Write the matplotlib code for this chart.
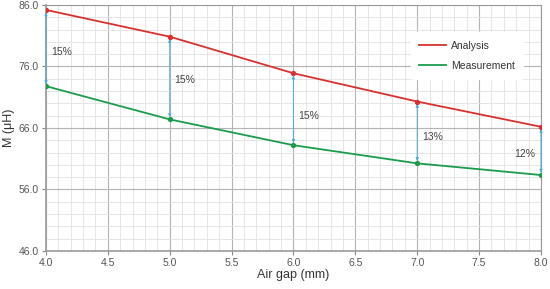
import numpy as np
import matplotlib.pyplot as plt
from matplotlib.ticker import MultipleLocator
from matplotlib.lines import Line2D

plt.rcParams['font.family'] = ['Liberation Sans', 'DejaVu Sans']

air_gap = [4.0, 5.0, 6.0, 7.0, 8.0]
analysis = [85.2, 80.85, 74.9, 70.3, 66.2]
measurement = [72.8, 67.4, 63.2, 60.25, 58.35]
diff_labels = ['15%', '15%', '15%', '13%', '12%']
label_y = [78.4, 73.8, 68.0, 64.5, 61.8]

fig = plt.figure(figsize=(5.5, 2.89), dpi=100)
ax = fig.add_axes([0.0836, 0.1315, 0.9, 0.8512])

red = '#d8312e'
green = '#1b9c4c'
blue = '#4aaee0'

#difference arrows
for x, a, m, lab, ly in zip(air_gap, analysis, measurement, diff_labels, label_y):
    ax.annotate('', xy=(x, m), xytext=(x, a),
                arrowprops=dict(arrowstyle='<|-|>,head_length=0.18,head_width=0.08',
                                color=blue, lw=0.7, shrinkA=1.5, shrinkB=1.5))
    if x < 8.0:
        ax.text(x + 0.04, ly, lab, fontsize=7.5, color='#444444', va='center', ha='left')
    else:
        ax.text(x - 0.05, ly, lab, fontsize=7.5, color='#444444', va='center', ha='right')

ax.plot(air_gap, analysis, color=red, lw=1.3, marker='o', ms=2.8, zorder=3)
ax.plot(air_gap, measurement, color=green, lw=1.3, marker='o', ms=2.8, zorder=3)

ax.set_xlim(4.0, 8.0)
ax.set_ylim(46.0, 86.0)
ax.xaxis.set_major_locator(MultipleLocator(0.5))
ax.xaxis.set_minor_locator(MultipleLocator(0.1))
ax.yaxis.set_major_locator(MultipleLocator(10))
ax.yaxis.set_minor_locator(MultipleLocator(2))
ax.set_xticklabels([f'{v:.1f}' for v in ax.get_xticks()])
ax.set_yticks([46, 56, 66, 76, 86])
ax.set_yticklabels(['46.0', '56.0', '66.0', '76.0', '86.0'])

ax.grid(True, which='major', color='#b4b4b4', lw=0.8)
ax.grid(True, which='minor', color='#e2e2e2', lw=0.6)
ax.set_axisbelow(True)

for s in ax.spines.values():
    s.set_color('#9a9a9a')
ax.spines['left'].set_linewidth(1.2)
ax.spines['bottom'].set_linewidth(1.2)
ax.tick_params(which='major', length=3, color='#888888', labelsize=7.5, labelcolor='#555555', pad=2)
ax.tick_params(which='minor', length=0)

ax.set_xlabel('Air gap (mm)', fontsize=9, color='#333333', labelpad=1)
ax.set_ylabel('M (\u03bcH)', fontsize=9, color='#333333', labelpad=3)

handles = [Line2D([], [], color=red, lw=1.3), Line2D([], [], color=green, lw=1.3)]
leg = ax.legend(handles, ['Analysis', 'Measurement'], loc='upper right',
                bbox_to_anchor=(0.975, 0.91), fontsize=7.5,
                frameon=True, facecolor='white', edgecolor='white', framealpha=1,
                handlelength=2.6, handletextpad=0.5, labelspacing=1.0, borderpad=0.8)
for t in leg.get_texts():
    t.set_color('#333333')

fig.savefig('out.png', dpi=100)
